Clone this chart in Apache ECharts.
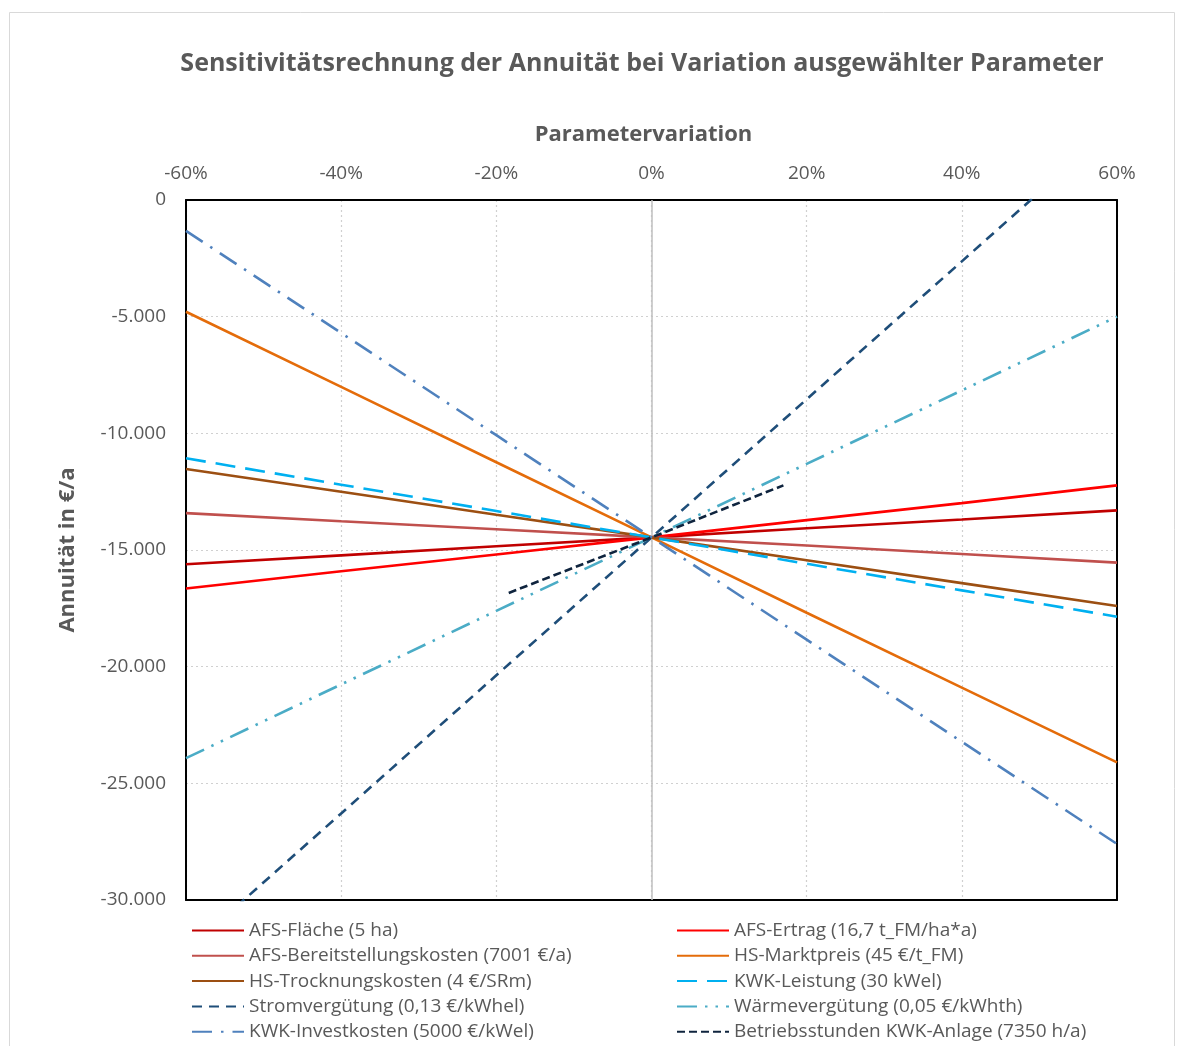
<!DOCTYPE html>
<html>
<head>
<meta charset="utf-8">
<script src="https://cdn.jsdelivr.net/npm/echarts@6/dist/echarts.min.js"></script>
<style>
  html, body { margin: 0; padding: 0; background: #fff; }
  #chart { width: 1177px; height: 1046px; }
</style>
</head>
<body>
<div id="chart"></div>
<script>
// Parameter variation in percent (x) and resulting annuity in €/a (y)
const variation = [-60, -40, -20, 0, 20, 40, 60];
const xTicks = [-60, -40, -20, 0, 20, 40, 60];
const yTicks = [0, -5000, -10000, -15000, -20000, -25000, -30000];

const afsFlaeche      = [-15610, -15230, -14840, -14460, -14070, -13690, -13300];
const afsErtrag       = [-16650, -15910, -15190, -14460, -13720, -12990, -12230];
const afsBereitstellung = [-13420, -13770, -14110, -14460, -14810, -15170, -15540];
const hsMarktpreis    = [-4790, -8010, -11240, -14460, -17690, -20900, -24100];
const hsTrocknung     = [-11530, -12500, -13490, -14460, -15440, -16420, -17400];
const kwkLeistung     = [-11070, -12200, -13330, -14460, -15590, -16730, -17860];
const stromVerguetung = [-32200, -26290, -20370, -14460, -8540, -2630, 3290];
const waermeVerguetung = [-23920, -20760, -17610, -14460, -11310, -8160, -5000];
const kwkInvest       = [-1320, -5700, -10080, -14460, -18840, -23220, -27600];

// Operating hours only vary within the physically possible range
const betriebVariation = [-18.4, 0, 17.0];
const betriebStunden   = [-16840, -14460, -12230];

const names = [
  'AFS-Fläche (5 ha)',
  'AFS-Ertrag (16,7 t_FM/ha*a)',
  'AFS-Bereitstellungskosten (7001 €/a)',
  'HS-Marktpreis (45 €/t_FM)',
  'HS-Trocknungskosten (4 €/SRm)',
  'KWK-Leistung (30 kWel)',
  'Stromvergütung (0,13 €/kWhel)',
  'Wärmevergütung (0,05 €/kWhth)',
  'KWK-Investkosten (5000 €/kWel)',
  'Betriebsstunden KWK-Anlage (7350 h/a)'
];

const FONT = '"Open Sans", "Noto Sans", sans-serif';
const GREY = '#595959';

function pairs(xs, ys) { return xs.map((x, i) => [x, ys[i]]); }
function fmtDE(v) {
  const s = Math.abs(v).toString().replace(/\B(?=(\d{3})+(?!\d))/g, '.');
  return (v < 0 ? '-' : '') + s;
}

function line(name, xs, ys, color, type, extra) {
  return Object.assign({
    name: name,
    type: 'line',
    data: pairs(xs, ys),
    symbol: 'none',
    clip: true,
    silent: true,
    lineStyle: { color: color, width: 2.6, type: type, cap: 'butt' },
    itemStyle: { color: color },
    z: 3
  }, extra || {});
}

const series = [
  line(names[0], variation, afsFlaeche, '#C00000', 'solid', {
    markLine: {
      silent: true, symbol: 'none', label: { show: false },
      lineStyle: { color: '#BFBFBF', width: 1.5, type: 'solid' },
      data: [{ xAxis: 0 }], z: 1
    }
  }),
  line(names[1], variation, afsErtrag, '#FF0000', 'solid'),
  line(names[2], variation, afsBereitstellung, '#C0504D', 'solid'),
  line(names[3], variation, hsMarktpreis, '#E46C0A', 'solid'),
  line(names[4], variation, hsTrocknung, '#9C4F12', 'solid'),
  line(names[5], variation, kwkLeistung, '#00B0F0', [20, 10]),
  line(names[6], variation, stromVerguetung, '#1F4E79', [10, 7]),
  line(names[7], variation, waermeVerguetung, '#4BACC6', [20, 8, 2.5, 8, 2.5, 8]),
  line(names[8], variation, kwkInvest, '#4F81BD', [20, 9, 2.5, 9]),
  line(names[9], betriebVariation, betriebStunden, '#0F243E', [8, 4])
];

const legendCommon = {
  orient: 'vertical',
  top: 916,
  height: 130,
  itemWidth: 52,
  itemHeight: 14,
  itemGap: 6.3,
  selectedMode: false,
  itemStyle: { opacity: 0, borderWidth: 0 },
  textStyle: { fontFamily: FONT, fontSize: 19, color: GREY, lineHeight: 19 }
};

// Frame axes (bottom / right) that close the plot box above the grid lines
const frameAxisX = {
  type: 'value', position: 'bottom', min: -60, max: 60, interval: 20,
  axisLine: { show: true, onZero: false, lineStyle: { color: '#000', width: 2 } },
  axisTick: { show: false }, axisLabel: { show: false }, splitLine: { show: false }
};
const frameAxisY = {
  type: 'value', position: 'right', min: -30000, max: 0, interval: 5000,
  axisLine: { show: true, onZero: false, lineStyle: { color: '#000', width: 2 } },
  axisTick: { show: false }, axisLabel: { show: false }, splitLine: { show: false }
};

const chart = echarts.init(document.getElementById('chart'), null, { renderer: 'canvas' });
chart.setOption({
  animation: false,
  backgroundColor: '#fff',
  graphic: [{
    type: 'rect',
    shape: { x: 9.5, y: 12.5, width: 1165, height: 1040 },
    style: { fill: 'none', stroke: '#D9D9D9', lineWidth: 1 },
    silent: true, z: -10
  }],
  title: {
    text: 'Sensitivitätsrechnung der Annuität bei Variation ausgewählter Parameter',
    left: 637, top: 46, textAlign: 'center',
    textStyle: { fontFamily: FONT, fontSize: 25, fontWeight: 'bold', color: GREY }
  },
  grid: {
    left: 186, right: 60, top: 200, bottom: 146
  },
  xAxis: [{
    type: 'value',
    position: 'top',
    min: -60, max: 60, interval: 20,
    name: 'Parametervariation',
    nameLocation: 'middle',
    nameGap: 54,
    nameTextStyle: { fontFamily: FONT, fontSize: 22, fontWeight: 'bold', color: GREY, padding: [0, 16, 0, 0] },
    axisLine: { show: true, onZero: false, lineStyle: { color: '#000', width: 2 } },
    axisTick: { show: false },
    axisLabel: {
      margin: 17, fontFamily: FONT, fontSize: 19, color: GREY,
      formatter: v => xTicks.includes(v) ? v + '%' : ''
    },
    splitLine: { show: true, lineStyle: { color: '#D0D0D0', type: [2, 3], width: 1.2 } }
  }, frameAxisX],
  yAxis: [{
    type: 'value',
    min: -30000, max: 0, interval: 5000,
    name: 'Annuität in €/a',
    nameLocation: 'middle',
    nameGap: 107,
    nameRotate: 90,
    nameTextStyle: { fontFamily: FONT, fontSize: 22, fontWeight: 'bold', color: GREY },
    axisLine: { show: true, onZero: false, lineStyle: { color: '#000', width: 2 } },
    axisTick: { show: false },
    axisLabel: {
      margin: 20, fontFamily: FONT, fontSize: 19, color: GREY,
      formatter: v => yTicks.includes(v) ? fmtDE(v) : ''
    },
    splitLine: { show: true, lineStyle: { color: '#D0D0D0', type: [2, 3], width: 1.2 } }
  }, frameAxisY],
  legend: [
    Object.assign({}, legendCommon, {
      left: 186,
      data: [names[0], names[2], names[4], names[6], names[8]]
    }),
    Object.assign({}, legendCommon, {
      left: 671,
      data: [names[1], names[3], names[5], names[7], names[9]]
    })
  ],
  series: series
});
</script>
</body>
</html>
